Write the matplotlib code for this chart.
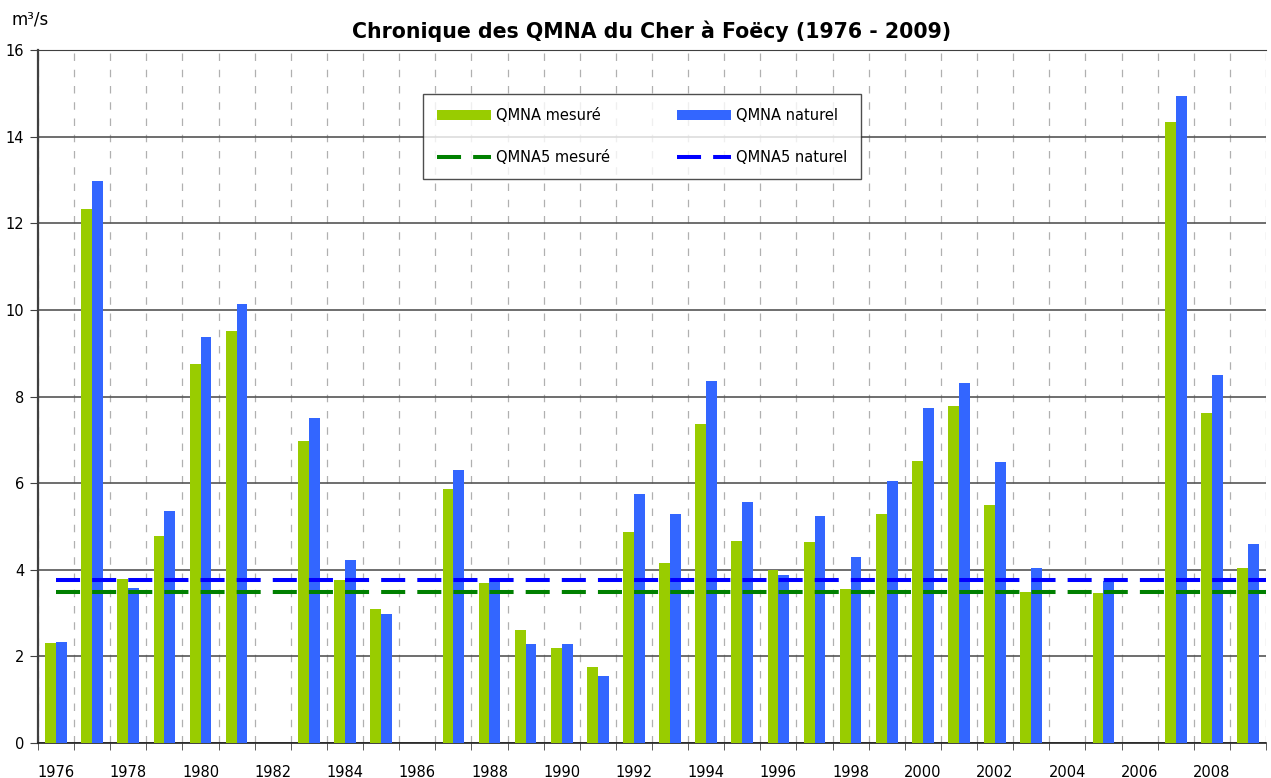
import numpy as np
import matplotlib
matplotlib.use("Agg")
import matplotlib.pyplot as plt

# -----------------------------------------------
# 1. données (m3/s)
# -----------------------------------------------
years = list(range(1976, 2010))

qmna_mesure = [2.31, 12.34, 3.79, 4.77, 8.75, 9.52, np.nan, 6.97, 3.77, 3.10,
               np.nan, 5.86, 3.70, 2.60, 2.19, 1.75, 4.88, 4.16, 7.36, 4.67,
               4.00, 4.63, 3.55, 5.28, 6.50, 7.78, 5.49, 3.48, np.nan, 3.47,
               np.nan, 14.34, 7.62, 4.03]

qmna_naturel = [2.33, 12.97, 3.58, 5.35, 9.38, 10.14, np.nan, 7.50, 4.22, 2.98,
                np.nan, 6.30, 3.82, 2.29, 2.29, 1.55, 5.74, 5.28, 8.36, 5.56,
                3.89, 5.25, 4.30, 6.04, 7.73, 8.31, 6.48, 4.03, np.nan, 3.73,
                np.nan, 14.94, 8.50, 4.60]

qmna5_mesure = 3.48
qmna5_naturel = 3.77

# -----------------------------------------------
# 2. graphique
# -----------------------------------------------
plt.rcParams["font.family"] = ["DejaVu Sans"]

fig = plt.figure(figsize=(12.71, 7.78), dpi=100)
ax = fig.add_axes([38 / 1271, 35 / 778, 1228 / 1271, 693 / 778])

x = np.arange(len(years))
w = 0.3

b1 = ax.bar(x - w / 2, qmna_mesure, width=w, color="#99CC00", label="QMNA mesuré", zorder=3)
b2 = ax.bar(x + w / 2, qmna_naturel, width=w, color="#3366FF", label="QMNA naturel", zorder=3)

xl = [0, len(years) - 0.5]
l1, = ax.plot(xl, [qmna5_mesure] * 2, color="#008000", lw=2.9, dashes=(5.97, 3.0),
              label="QMNA5 mesuré", zorder=4)
l2, = ax.plot(xl, [qmna5_naturel] * 2, color="#0000FF", lw=2.9, dashes=(5.97, 3.0),
              label="QMNA5 naturel", zorder=4)

ax.set_xlim(-0.5, len(years) - 0.5)
ax.set_ylim(0, 16)

# axe x : étiquettes une année sur deux, graduations entre catégories
ax.set_xticks(x[::2])
ax.set_xticklabels([str(y) for y in years[::2]], fontsize=10.5)
ax.set_xticks(np.arange(len(years) + 1) - 0.5, minor=True)
ax.tick_params(axis="x", which="major", length=0, pad=16)
ax.tick_params(axis="x", which="minor", length=5, color="#404040")

ax.set_yticks(range(0, 17, 2))
ax.tick_params(axis="y", length=6, color="#404040", pad=4, labelsize=10.5)

ax.grid(axis="y", which="major", color="#555555", lw=1.2, zorder=1)
ax.grid(axis="x", which="minor", color="#b0b0b0", lw=0.9, ls=(0, (6, 7)), zorder=1)
ax.grid(axis="x", which="major", visible=False)

ax.spines["right"].set_visible(False)
ax.spines["top"].set_color("#404040")
ax.spines["left"].set_color("#404040")
ax.spines["left"].set_linewidth(1.6)
ax.spines["bottom"].set_color("#202020")
ax.spines["bottom"].set_linewidth(1.2)

fig.text(0.513, 1 - 31 / 778, "Chronique des QMNA du Cher à Foëcy (1976 - 2009)",
         ha="center", va="center", fontsize=14.8, fontweight="bold")
fig.text(11 / 1271, 1 - 20 / 778, "m³/s", ha="left", va="center", fontsize=12)

# légende : 2 colonnes
leg = fig.legend([b1, l1, b2, l2],
                 ["QMNA mesuré", "QMNA5 mesuré", "QMNA naturel", "QMNA5 naturel"],
                 ncol=2, loc="upper left", bbox_to_anchor=(423 / 1271, 1 - 94 / 778),
                 fontsize=10.5, frameon=True, fancybox=False, edgecolor="#222222",
                 handlelength=3.7, handletextpad=0.35, columnspacing=4.6,
                 labelspacing=1.85, borderpad=0.95, borderaxespad=0)
leg.get_frame().set_linewidth(1.0)

fig.savefig("out.png", dpi=100)
